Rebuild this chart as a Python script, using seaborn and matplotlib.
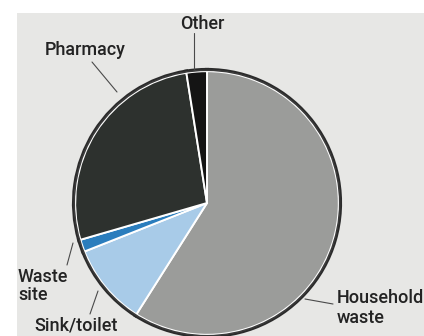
import matplotlib
matplotlib.use("Agg")
import matplotlib.pyplot as plt
from matplotlib.patches import Rectangle, Circle
import seaborn as sns

categories = ["Household\nwaste", "Sink/toilet", "Waste\nsite", "Pharmacy", "Other"]
values = [59, 10, 1.5, 27, 2.5]
colors = ["#9b9c9a", "#a8cbe8", "#2a7dbd", "#2d312e", "#141414"]

sns.set_theme(style="white")
plt.rcParams["font.family"] = ["Roboto", "DejaVu Sans"]

W, H = 424, 336
fig = plt.figure(figsize=(W / 100, H / 100), dpi=100, facecolor="white")
ax = fig.add_axes([0, 0, 1, 1])

cx, cy, r = 207, H - 203, 133
# dark outlines
ax.pie(values, colors=colors, startangle=90, counterclock=False,
       center=(cx, cy), radius=r, frame=True,
       wedgeprops=dict(edgecolor="#2b2b2b", linewidth=3.0, zorder=2))
# white separators
ax.pie(values, colors=colors, startangle=90, counterclock=False,
       center=(cx, cy), radius=r - 1.2, frame=True,
       wedgeprops=dict(edgecolor="white", linewidth=1.4, zorder=3))
ax.add_patch(Circle((cx, cy), r - 0.3, facecolor="none", edgecolor="#3a3a3a", linewidth=1.1, zorder=4))
ax.set_xlim(0, W)
ax.set_ylim(0, H)
ax.set_aspect("equal")
ax.axis("off")

# scanned page background
ax.add_patch(Rectangle((17, 0), W - 17, H - 13, facecolor="#e7e7e5", edgecolor="none", zorder=0))

tc = "#232323"
fs = 13.0
def label(text, x, y, line, ha="left", step=19):
    for i, part in enumerate(text.split("\n")):
        ax.text(x, H - (y + i * step), part, ha=ha, va="baseline", fontsize=fs,
                color=tc, fontweight="medium", zorder=5)
    (x0, y0), (x1, y1) = line
    ax.plot([x0, x1], [H - y0, H - y1], color="#4a4a4a", lw=0.8, zorder=5)

label(categories[4], 202, 29, ((194, 33), (194, 69)), ha="center")
label(categories[3], 45, 55, ((92, 62), (117, 92)))
label(categories[2], 18, 282, ((67, 265), (73, 243)), step=18)
label(categories[1], 34, 331, ((90, 314), (98, 291)))
label(categories[0], 337, 303, ((305, 299), (333, 304)), step=20)

fig.savefig("out.png", dpi=100, facecolor="white")
